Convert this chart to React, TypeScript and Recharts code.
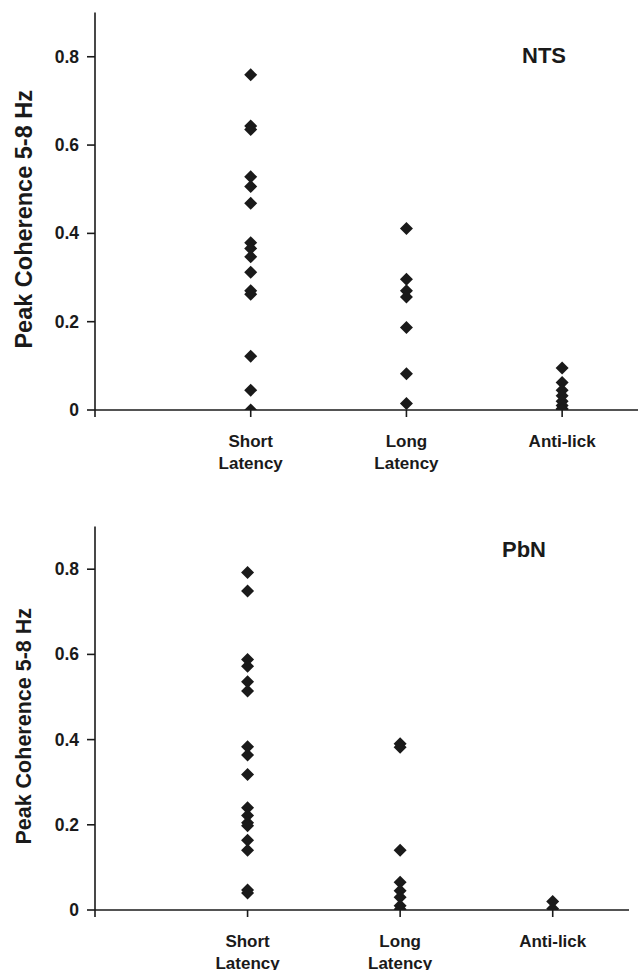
import { ScatterChart, Scatter, XAxis, YAxis } from 'recharts';

// NTS panel values (peak coherence, 5-8 Hz)
const ntsShort = [0.759, 0.643, 0.635, 0.528, 0.506, 0.468, 0.379, 0.366, 0.347, 0.312, 0.27, 0.262, 0.122, 0.045, 0.0];
const ntsLong = [0.411, 0.296, 0.27, 0.256, 0.187, 0.082, 0.015];
const ntsAnti = [0.095, 0.062, 0.045, 0.032, 0.02, 0.01, 0.003, 0.0];

// PbN panel values
const pbnShort = [0.792, 0.749, 0.588, 0.572, 0.536, 0.514, 0.383, 0.364, 0.318, 0.24, 0.222, 0.205, 0.198, 0.164, 0.14, 0.047, 0.04];
const pbnLong = [0.39, 0.382, 0.14, 0.065, 0.045, 0.03, 0.01, 0.002];
const pbnAnti = [0.02, 0.003];

const categories = [['Short', 'Latency'], ['Long', 'Latency'], ['Anti-lick']];
const yTicks = [0, 0.2, 0.4, 0.6, 0.8];

const FONT = '"Liberation Sans", Arial, sans-serif';
const INK = '#1a1a1a';

const toPoints = (groups: number[][]) =>
    groups.flatMap((vals, i) => vals.map((v) => ({ x: i + 1, y: v })));

const Diamond = (props: any) => {
    const { cx, cy } = props;
    const r = 6.5;
    return (
        <polygon
            points={`${cx},${cy - r} ${cx + r},${cy} ${cx},${cy + r} ${cx - r},${cy}`}
            fill={INK}
        />
    );
};

const XTick = (props: any) => {
    const { x, y, payload } = props;
    const lines = categories[payload.value - 1];
    if (!lines) return null;
    return (
        <g>
            {lines.map((t, i) => (
                <text
                    key={i}
                    x={x}
                    y={y + 28 + i * 22}
                    textAnchor="middle"
                    fontFamily={FONT}
                    fontWeight="bold"
                    fontSize={17}
                    fill={INK}
                >
                    {t}
                </text>
            ))}
        </g>
    );
};

const YTick = (props: any) => {
    const { x, y, payload } = props;
    return (
        <text
            x={x - 6}
            y={y + 6}
            textAnchor="end"
            fontFamily={FONT}
            fontWeight="bold"
            fontSize={17.5}
            fill={INK}
        >
            {payload.value === 0 ? '0' : payload.value.toFixed(1)}
        </text>
    );
};

function Panel({ data, title, width, height, top, xAxisHeight, labelSize, titleX, titleY }: any) {
    const plotBottom = height - xAxisHeight;
    const labelY = (top + plotBottom) / 2 + 8;
    return (
        <ScatterChart
            width={width}
            height={height}
            margin={{ top: top, right: 0, bottom: 0, left: 0 }}
        >
            <XAxis
                type="number"
                dataKey="x"
                domain={[0, 3.5]}
                ticks={[0, 1, 2, 3]}
                height={xAxisHeight}
                axisLine={{ stroke: INK, strokeWidth: 1.6 }}
                tickLine={{ stroke: INK, strokeWidth: 1.6 }}
                tickSize={7}
                tick={<XTick />}
                allowDataOverflow
            />
            <YAxis
                type="number"
                dataKey="y"
                domain={[0, 0.9]}
                ticks={yTicks}
                width={95}
                axisLine={{ stroke: INK, strokeWidth: 1.6 }}
                tickLine={{ stroke: INK, strokeWidth: 1.6 }}
                tickSize={8}
                tick={<YTick />}
                allowDataOverflow
            />
            <Scatter data={data} shape={<Diamond />} isAnimationActive={false} />
            <text
                x={24}
                y={labelY}
                transform={`rotate(-90, 24, ${labelY})`}
                textAnchor="middle"
                dominantBaseline="central"
                fontFamily={FONT}
                fontWeight="bold"
                fontSize={labelSize}
                fill={INK}
            >
                Peak Coherence 5-8 Hz
            </text>
            <text
                x={titleX}
                y={titleY}
                textAnchor="middle"
                fontFamily={FONT}
                fontWeight="bold"
                fontSize={22}
                fill={INK}
            >
                {title}
            </text>
        </ScatterChart>
    );
}

export default function App() {
    return (
        <div
            style={{
                position: 'absolute',
                left: 0,
                top: 0,
                width: 638,
                height: 970,
                overflow: 'hidden',
                background: '#fff',
            }}
        >
            <div style={{ position: 'absolute', left: 0, top: 0 }}>
                <Panel
                    data={toPoints([ntsShort, ntsLong, ntsAnti])}
                    title="NTS"
                    width={640}
                    height={480}
                    top={12.6}
                    xAxisHeight={70}
                    labelSize={23.5}
                    titleX={544}
                    titleY={63}
                />
            </div>
            <div style={{ position: 'absolute', left: 0, top: 500 }}>
                <Panel
                    data={toPoints([pbnShort, pbnLong, pbnAnti])}
                    title="PbN"
                    width={629}
                    height={470}
                    top={26.6}
                    xAxisHeight={60}
                    labelSize={21.5}
                    titleX={524}
                    titleY={57}
                />
            </div>
        </div>
    );
}
